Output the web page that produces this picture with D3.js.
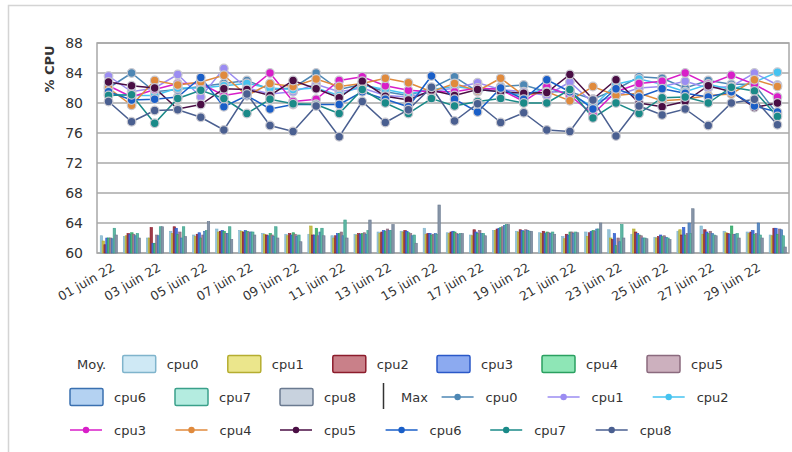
<!DOCTYPE html>
<html><head><meta charset="utf-8">
<script src="https://cdn.jsdelivr.net/npm/d3@7/dist/d3.min.js"></script>
<style>
body{margin:0;background:#fff;}
text{font-family:"DejaVu Sans",sans-serif;fill:#333;}
</style></head>
<body><svg id="c" width="792" height="452"></svg>
<script>
const days = ["01 juin 22","02 juin 22","03 juin 22","04 juin 22","05 juin 22","06 juin 22","07 juin 22","08 juin 22","09 juin 22","10 juin 22","11 juin 22","12 juin 22","13 juin 22","14 juin 22","15 juin 22","16 juin 22","17 juin 22","18 juin 22","19 juin 22","20 juin 22","21 juin 22","22 juin 22","23 juin 22","24 juin 22","25 juin 22","26 juin 22","27 juin 22","28 juin 22","29 juin 22","30 juin 22"];
const cpus = ["cpu0","cpu1","cpu2","cpu3","cpu4","cpu5","cpu6","cpu7","cpu8"];
const yTicks = [60,64,68,72,76,80,84,88];

// Moyenne (bars)
const avg0 = [62.3,62.2,62.0,62.9,62.4,63.2,63.0,62.6,62.5,62.5,62.3,62.5,62.8,62.9,63.3,62.7,62.4,63.0,62.9,62.7,62.2,62.8,63.1,62.5,62.1,62.9,63.6,62.9,62.8,62.4];
const avg1 = [61.6,62.3,62.0,62.6,62.2,62.8,62.9,62.5,62.3,63.6,62.0,62.4,62.6,62.8,62.5,62.6,62.3,63.0,62.8,62.6,61.9,62.2,62.0,63.2,62.0,63.1,62.5,62.7,62.6,62.3];
const avg2 = [61.1,62.6,63.4,63.5,62.5,62.9,62.8,62.4,62.6,62.4,62.3,62.6,62.8,63.0,62.6,62.8,63.1,63.2,63.1,62.9,62.5,62.7,61.8,62.8,62.2,62.4,63.1,62.6,62.8,63.3];
const avg3 = [62.0,62.5,61.3,63.3,62.7,63.0,63.0,62.3,62.4,62.4,62.6,62.5,63.0,62.9,62.6,62.9,62.8,63.3,63.0,62.6,62.4,62.9,62.6,62.6,62.4,63.4,62.8,62.5,63.0,63.3];
const avg4 = [62.0,62.7,61.3,62.5,62.0,62.9,62.9,62.6,62.7,63.3,62.6,62.6,62.9,62.7,62.4,62.8,62.6,63.4,62.9,62.8,62.8,63.0,61.0,62.4,62.2,62.4,62.6,63.6,62.5,62.5];
const avg5 = [62.0,62.5,62.4,62.8,62.4,62.6,62.8,62.4,62.5,62.3,62.8,62.7,63.2,62.6,62.5,62.6,63.0,63.5,63.1,62.7,62.8,62.9,62.0,62.3,62.3,62.6,62.9,62.5,62.6,63.2];
const avg6 = [61.9,62.3,62.3,62.0,62.9,62.6,62.8,62.2,62.2,62.8,62.3,62.5,63.0,62.3,62.6,62.5,62.6,63.7,63.0,62.6,62.6,63.2,61.5,62.0,62.1,64.0,62.6,62.5,64.0,63.1];
const avg7 = [63.3,62.6,63.5,63.5,63.0,63.5,62.8,63.5,62.4,63.3,64.4,63.0,63.0,62.4,62.5,62.6,62.6,63.8,62.9,62.8,62.8,63.2,63.8,62.0,62.0,62.6,62.4,62.6,62.4,62.3];
const avg8 = [62.4,62.0,63.5,62.2,64.2,61.8,62.4,62.0,61.5,62.3,62.0,64.4,63.8,61.3,66.4,62.6,62.3,63.8,62.9,62.5,62.7,64.0,62.0,61.9,61.8,65.9,62.3,62.0,62.0,60.8];

// Max (lines)
const max0 = [82.0,84.0,81.5,81.8,82.2,82.6,83.0,81.8,82.0,84.0,81.8,82.5,81.5,81.0,82.0,83.5,81.5,82.2,82.4,81.5,81.5,80.5,81.8,83.5,83.3,82.0,83.0,82.5,82.5,78.5];
const max1 = [83.6,81.5,82.0,83.8,80.8,84.6,82.0,81.2,81.5,82.5,81.5,82.0,81.0,80.8,81.5,82.0,82.7,81.8,81.5,81.0,82.8,80.0,81.0,82.0,82.2,82.9,82.0,82.2,84.0,82.4];
const max2 = [81.2,81.0,81.0,82.0,82.0,82.3,82.6,82.0,81.8,82.0,81.0,82.4,81.8,81.2,81.8,82.2,81.8,81.5,81.0,82.0,81.2,79.5,82.5,83.2,82.5,81.5,82.5,81.8,82.8,84.1];
const max3 = [82.3,80.8,81.8,82.6,82.6,81.0,81.5,84.0,80.2,80.5,83.0,83.5,82.3,81.7,81.5,81.5,82.0,81.8,80.2,82.2,81.0,78.5,81.5,82.6,82.9,84.0,82.5,83.7,82.5,80.8];
const max4 = [82.0,79.7,83.0,82.4,82.8,83.7,81.0,82.6,82.2,83.2,82.2,82.6,83.3,82.7,81.5,82.6,81.6,83.3,81.0,81.5,80.3,82.2,81.0,81.3,80.3,80.5,81.0,81.2,83.1,82.2];
const max5 = [82.8,82.3,82.0,79.2,79.8,81.9,81.8,81.0,83.0,81.9,80.7,82.9,80.9,80.4,81.7,81.0,81.8,81.5,81.3,81.4,83.8,80.5,83.1,80.0,79.5,80.2,82.3,81.5,79.4,80.0];
const max6 = [81.5,80.4,80.5,80.8,83.4,79.5,81.0,79.2,79.8,79.8,79.8,81.5,80.5,79.5,83.6,80.5,78.8,82.0,80.5,83.1,81.5,79.2,81.9,80.8,81.9,81.3,80.8,81.5,79.6,78.8];
const max7 = [81.0,81.1,77.3,80.6,81.7,80.6,78.6,80.5,79.9,79.8,78.6,81.8,80.0,78.6,80.6,79.6,80.2,80.6,80.0,80.0,81.8,78.0,80.0,78.6,80.7,80.8,80.0,82.1,81.6,78.2];
const max8 = [80.2,77.5,79.0,79.1,78.1,76.4,81.2,77.0,76.2,79.6,75.5,80.2,77.4,79.1,82.1,77.6,79.9,77.4,78.7,76.4,76.2,80.4,75.6,79.6,78.4,79.2,77.0,80.0,80.5,77.1];

const avgSeries = [avg0,avg1,avg2,avg3,avg4,avg5,avg6,avg7,avg8];
const maxSeries = [max0,max1,max2,max3,max4,max5,max6,max7,max8];

const barFill   = ["#cfe9f5","#ebe68c","#c98089","#8caaf0","#8ee6b6","#ccb0be","#b4d2f2","#b4ece0","#c8d2de"];
const barStroke = ["#7fb4cc","#b5ad30","#8c1c2c","#2a58c8","#2aa060","#8a6a7e","#3a70b0","#3aa08a","#6a7a90"];
const lineColor = ["#4e87b4","#9b8cf2","#45c3f0","#d81ec8","#e08a3c","#4a0e44","#1a5fc8","#1a8a88","#4a5f90"];

const svg = d3.select("#c");
svg.append("rect").attr("x",8.5).attr("y",5.5).attr("width",820).attr("height",480)
  .attr("fill","none").attr("stroke","#d4d4d4").attr("stroke-width",1.5);

const L=97, R=789, T=43, B=253;
const x = d3.scaleBand().domain(days).range([L,R]).padding(0);
const y = d3.scaleLinear().domain([60,88]).range([B,T]);
const xs = d3.scaleBand().domain(cpus).range([0, x.bandwidth()*0.72]).padding(0);

svg.append("g").selectAll("line").data(yTicks).join("line")
  .attr("x1",L).attr("x2",R).attr("y1",d=>y(d)).attr("y2",d=>y(d))
  .attr("stroke","#a8a8a8").attr("stroke-width",1.3);
svg.append("rect").attr("x",L).attr("y",T).attr("width",R-L).attr("height",B-T)
  .attr("fill","none").attr("stroke","#a8a8a8").attr("stroke-width",1.5);

const yAxis = d3.axisLeft(y).tickValues(yTicks).tickSize(0).tickPadding(8);
const gy = svg.append("g").attr("transform",`translate(${L-6},0)`).call(yAxis);
gy.select(".domain").remove();
gy.selectAll("text").style("font-family","DejaVu Sans").style("font-size","14px").attr("fill","#444");

svg.append("text").attr("transform","translate(54,69) rotate(-90)")
  .attr("text-anchor","middle").style("font-size","13px").style("font-weight","bold")
  .attr("fill","#222").text("% CPU");

const xAxis = d3.axisBottom(x).tickValues(days.filter((d,i)=>i%2===0)).tickSize(0).tickPadding(0);
const gx = svg.append("g").attr("transform",`translate(0,${B})`).call(xAxis);
gx.select(".domain").remove();
gx.selectAll("text").style("font-family","DejaVu Sans").style("font-size","12.5px").attr("fill","#333")
  .attr("text-anchor","end").attr("dy",0).attr("y",0)
  .attr("transform","translate(7,17) rotate(-30)");

const gb = svg.append("g");
avgSeries.forEach((s,si)=>{
  const f = d3.interpolateRgb(barStroke[si], barFill[si])(0.3);
  gb.append("g").selectAll("rect").data(s).join("rect")
    .attr("x",(d,i)=>x(days[i]) + (x.bandwidth()-xs.range()[1])/2 + xs(cpus[si]))
    .attr("width",xs.bandwidth()+0.6)
    .attr("y",d=>y(d)).attr("height",d=>B-y(d))
    .attr("fill",f).attr("stroke",barStroke[si]).attr("stroke-width",0.6);
});

const line = d3.line().x((d,i)=>x(days[i])+x.bandwidth()/2).y(d=>y(d));
maxSeries.forEach((s,si)=>{
  svg.append("path").datum(s).attr("d",line).attr("fill","none")
    .attr("stroke",lineColor[si]).attr("stroke-width",1.5);
});
maxSeries.forEach((s,si)=>{
  svg.append("g").selectAll("circle").data(s).join("circle")
    .attr("cx",(d,i)=>x(days[i])+x.bandwidth()/2).attr("cy",d=>y(d)).attr("r",4.3)
    .attr("fill",lineColor[si]).attr("stroke","#c8c8d0").attr("stroke-width",1.2);
});

const lg = svg.append("g").style("font-size","13px");
const row1=364,row2=397,row3=430;
lg.append("text").attr("x",77).attr("y",row1).attr("dy","0.35em").text("Moy.");
const barLeg = [[122.7,row1],[227.8,row1],[332.8,row1],[437,row1],[542,row1],[647,row1],[70,row2],[175,row2],[280,row2]];
barLeg.forEach((p,i)=>{
  lg.append("rect").attr("x",p[0]).attr("y",p[1]-8.5).attr("width",33).attr("height",17)
    .attr("fill",barFill[i]).attr("stroke",barStroke[i]).attr("stroke-width",1.5).attr("rx",1.5);
  lg.append("text").attr("x",p[0]+44).attr("y",p[1]).attr("dy","0.35em").text(cpus[i]);
});
lg.append("line").attr("x1",383.5).attr("x2",383.5).attr("y1",row2-14).attr("y2",row2+12)
  .attr("stroke","#333").attr("stroke-width",1.5);
lg.append("text").attr("x",401).attr("y",row2).attr("dy","0.35em").text("Max");
const lineLeg = [[441.6,row2],[547.6,row2],[652.7,row2],[70,row3],[175.5,row3],[280,row3],[385.6,row3],[490.2,row3],[595.7,row3]];
lineLeg.forEach((p,i)=>{
  lg.append("line").attr("x1",p[0]).attr("x2",p[0]+32).attr("y1",p[1]).attr("y2",p[1])
    .attr("stroke",lineColor[i]).attr("stroke-width",1.5);
  lg.append("circle").attr("cx",p[0]+16).attr("cy",p[1]).attr("r",3.2).attr("fill",lineColor[i]);
  lg.append("text").attr("x",p[0]+44).attr("y",p[1]).attr("dy","0.35em").text(cpus[i]);
});
</script></body></html>
